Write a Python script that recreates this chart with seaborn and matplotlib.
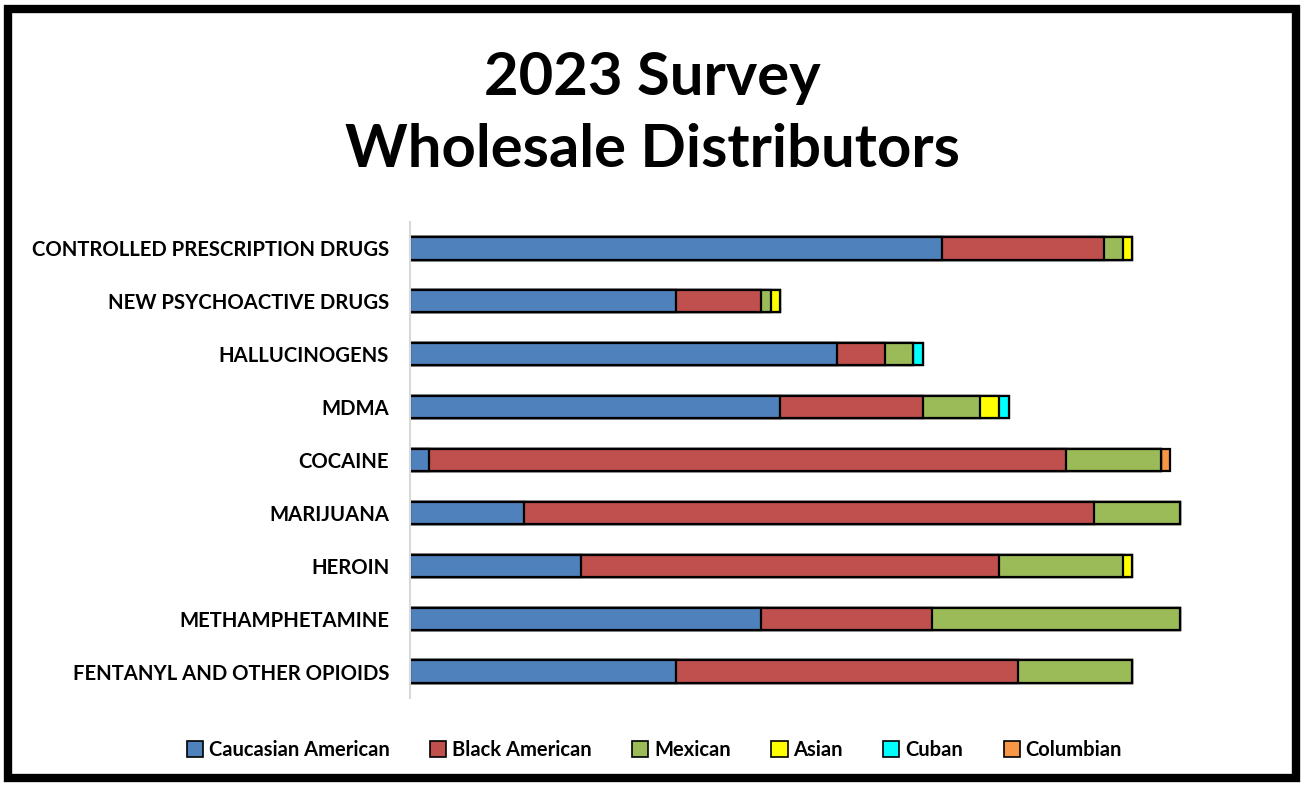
import matplotlib
matplotlib.use("Agg")
import matplotlib.pyplot as plt
from matplotlib.patches import Patch, Rectangle
import seaborn as sns
import pandas as pd

# Data
drugs = ['CONTROLLED PRESCRIPTION DRUGS', 'NEW PSYCHOACTIVE DRUGS', 'HALLUCINOGENS',
         'MDMA', 'COCAINE', 'MARIJUANA', 'HEROIN', 'METHAMPHETAMINE',
         'FENTANYL AND OTHER OPIOIDS']
groups = ['Caucasian American', 'Black American', 'Mexican', 'Asian', 'Cuban', 'Columbian']
caucasian = [56, 28, 45, 39, 2, 12, 18, 37, 28]
black = [17, 9, 5, 15, 67, 60, 44, 18, 36]
mexican = [2, 1, 3, 6, 10, 9, 13, 26, 12]
asian = [1, 1, 0, 2, 0, 0, 1, 0, 0]
cuban = [0, 0, 1, 1, 0, 0, 0, 0, 0]
columbian = [0, 0, 0, 0, 1, 0, 0, 0, 0]
colors = ['#4F81BD', '#C0504D', '#9BBB59', '#FFFF00', '#00FFFF', '#F79646']

df = pd.DataFrame({'Drug': drugs, 'Caucasian American': caucasian,
                   'Black American': black, 'Mexican': mexican, 'Asian': asian,
                   'Cuban': cuban, 'Columbian': columbian})
cum = df[groups].cumsum(axis=1)

sns.set_style('white')
plt.rcParams['font.family'] = ['Lato', 'DejaVu Sans']
plt.rcParams['text.color'] = 'black'
plt.rcParams['ytick.color'] = 'black'

fig = plt.figure(figsize=(13.04, 7.86), dpi=100)
ax = fig.add_axes([0.3144, 0.112, 0.6557, 0.6056])

# Stacked bars: draw cumulative totals from the outermost segment inward
for g, c in reversed(list(zip(groups, colors))):
    sns.barplot(x=cum[g], y=df['Drug'], color=c, orient='h', width=0.42,
                edgecolor='black', linewidth=1.6, ax=ax, saturation=1)

ax.set_xlim(0, 90)
ax.set_xlabel('')
ax.set_ylabel('')
ax.set_xticks([])
ax.tick_params(axis='y', length=0, pad=15)
for lab in ax.get_yticklabels():
    lab.set_fontweight('bold')
    lab.set_fontsize(14.6)
    lab.set_color('black')
for s in ['top', 'right', 'bottom']:
    ax.spines[s].set_visible(False)
ax.spines['left'].set_color('#d9d9d9')
ax.spines['left'].set_linewidth(1.5)

# Title, two lines
fig.text(0.5, 0.901, '2023 Survey', ha='center', va='center', fontsize=43,
         fontweight='bold', color='black')
fig.text(0.5, 0.809, 'Wholesale Distributors', ha='center', va='center', fontsize=43,
         fontweight='bold', color='black')

handles = [Patch(facecolor=c, edgecolor='black', linewidth=1.2, label=g)
           for g, c in zip(groups, colors)]
fig.legend(handles=handles, loc='center', bbox_to_anchor=(0.502, 0.046), ncol=6,
           frameon=False, prop={'weight': 'bold', 'size': 14.5},
           handlelength=0.8, handleheight=0.8, handletextpad=0.3, columnspacing=2.0)

# Thick black frame around the whole figure
fig.patches.append(Rectangle((0.006, 0.01), 0.988, 0.978, transform=fig.transFigure,
                             fill=False, edgecolor='black', linewidth=6))

fig.savefig('out.png', dpi=100)
